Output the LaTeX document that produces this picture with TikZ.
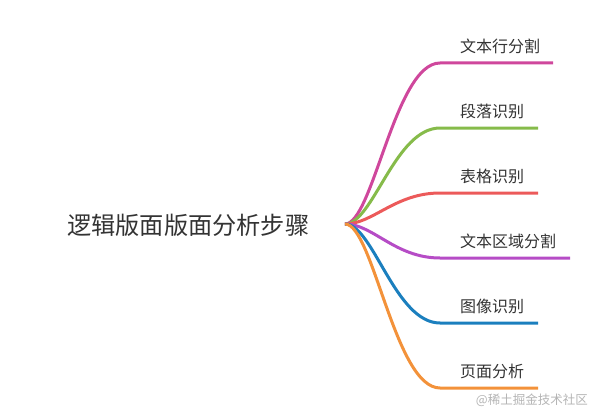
\documentclass[tikz,border=0pt]{standalone}
\usepackage{fontspec}
\usepackage{tikz}
\usetikzlibrary{positioning,calc}
\setmainfont{Noto Sans CJK SC}
\definecolor{ink}{HTML}{333333}
\definecolor{wmark}{HTML}{B4B4B4}
\definecolor{brA}{HTML}{CF479C}
\definecolor{brB}{HTML}{86BB4A}
\definecolor{brC}{HTML}{EC5A5A}
\definecolor{brD}{HTML}{B64CC6}
\definecolor{brE}{HTML}{1B7FBE}
\definecolor{brF}{HTML}{F3923A}
\tikzset{
  topic/.style={inner sep=0pt,anchor=west,text=ink,font=\fontsize{24.2}{29}\selectfont},
  leaf/.style={inner sep=0pt,anchor=west,text=ink,font=\fontsize{16}{19}\selectfont},
  branch/.style={line width=3pt},
  stamp/.style={inner sep=0pt,anchor=east,text=wmark,font=\fontsize{12.5}{15}\selectfont},
}
\begin{document}
\begin{tikzpicture}[x=1pt,y=-1pt]
  \useasboundingbox (0,0) rectangle (600,420);
  \node[topic] (root) at (67,225) {逻辑版面版面分析步骤};
  \coordinate (hub) at (345,224);
  \foreach \i/\y/\xe/\c/\t in {1/63/553/brA/文本行分割,2/128/538/brB/段落识别,
      3/193/538/brC/表格识别,4/258/570/brD/文本区域分割,
      5/323/538/brE/图像识别,6/388/538/brF/页面分析}{
    \coordinate (k\i) at (440,\y);
    \coordinate (e\i) at (\xe,\y);
    \node[leaf] (l\i) at (460,\y-17) {\t};
    \draw[branch,draw=\c] (hub) .. controls +(28,0) and +(-45,0) .. (k\i) -- (e\i);
  }
  \node[stamp] (mark) at (588,400) {@稀土掘金技术社区};
\end{tikzpicture}
\end{document}
